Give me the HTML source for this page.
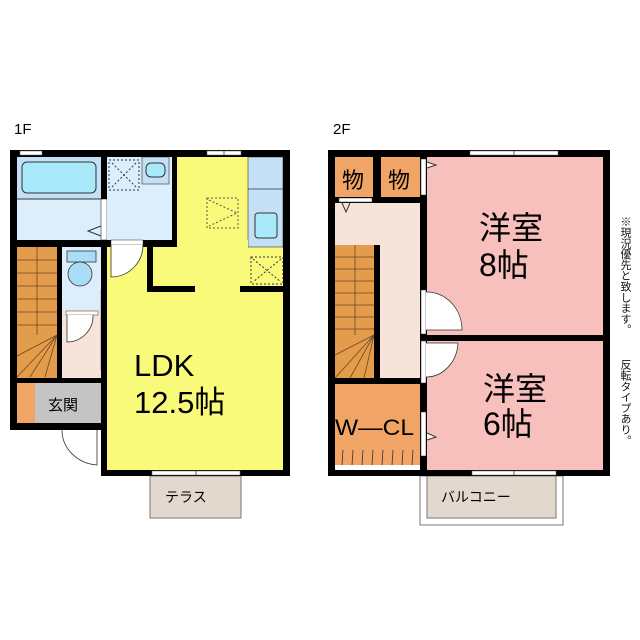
<!DOCTYPE html>
<html><head><meta charset="utf-8"><style>
body{margin:0;background:#fff;width:640px;height:640px;overflow:hidden;font-family:"Liberation Sans","Noto Sans CJK JP",sans-serif;}
svg{position:absolute;left:0;top:0}
.v{position:absolute;writing-mode:vertical-rl;font-size:11px;line-height:11px;color:#111;letter-spacing:-0.2px}
</style></head><body>
<svg width="640" height="640" viewBox="0 0 640 640" xmlns="http://www.w3.org/2000/svg" font-family="Liberation Sans, Noto Sans CJK JP, sans-serif">
<text x="14" y="134" font-size="15" fill="#000">1F</text>
<text x="333" y="134" font-size="15" fill="#000">2F</text>

<!-- 1F fills -->
<rect x="107" y="157" width="176" height="313" fill="#fafa7a"/>
<rect x="17" y="157" width="84" height="83" fill="#dceefb"/>
<rect x="17" y="157" width="84" height="42" fill="#c3e0f7"/>
<rect x="22" y="162" width="74" height="31" rx="5" fill="#a8eafa" stroke="#333" stroke-width="1"/>
<line x1="17" y1="199" x2="101" y2="199" stroke="#333" stroke-width="1"/>
<rect x="101" y="199" width="6" height="41" fill="#fff" stroke="#333" stroke-width="0.6"/>
<polyline points="101,226 88,231 101,236" fill="none" stroke="#333"/>
<rect x="107" y="157" width="65" height="83" fill="#dceefb"/>
<rect x="109" y="160" width="30" height="30" fill="none" stroke="#333" stroke-dasharray="2,2"/>
<line x1="112" y1="163" x2="136" y2="187" stroke="#333" stroke-dasharray="2,2"/>
<line x1="136" y1="163" x2="112" y2="187" stroke="#333" stroke-dasharray="2,2"/>
<rect x="142" y="157" width="27" height="27" fill="#c3e0f7" stroke="#333" stroke-width="0.6"/>
<rect x="146" y="163" width="19" height="14" rx="5" fill="#a8eafa" stroke="#333"/>
<rect x="248" y="157" width="35" height="90" fill="#c3e0f7" stroke="#333" stroke-width="0.6"/>
<line x1="248" y1="189" x2="283" y2="189" stroke="#333" stroke-width="0.8"/>
<rect x="255" y="213" width="22" height="25" rx="3" fill="#a8eafa" stroke="#333"/>
<rect x="251" y="257" width="32" height="27" fill="none" stroke="#333" stroke-dasharray="2,2"/>
<line x1="253" y1="259" x2="281" y2="282" stroke="#333" stroke-dasharray="2,2"/>
<line x1="281" y1="259" x2="253" y2="282" stroke="#333" stroke-dasharray="2,2"/>
<rect x="207" y="198" width="31" height="30" fill="none" stroke="#555" stroke-dasharray="2,2"/>
<polyline points="209,200 237,213 209,226" fill="none" stroke="#555" stroke-dasharray="2,2"/>
<rect x="17" y="247" width="40" height="131" fill="#e39b4c"/>
<g stroke="#6b4a1f" stroke-width="0.8">
<line x1="17" y1="260" x2="57" y2="260"/><line x1="17" y1="273" x2="57" y2="273"/><line x1="17" y1="286" x2="57" y2="286"/><line x1="17" y1="299" x2="57" y2="299"/><line x1="17" y1="312" x2="57" y2="312"/><line x1="17" y1="325" x2="57" y2="325"/>
<line x1="37" y1="247" x2="37" y2="335"/>
<line x1="57" y1="335" x2="17" y2="377"/><line x1="57" y1="335" x2="17" y2="356"/><line x1="57" y1="335" x2="30" y2="377"/><line x1="57" y1="335" x2="45" y2="377"/>
</g>
<rect x="62" y="247" width="39" height="63" fill="#dceefb"/>
<rect x="67" y="251" width="29" height="11" fill="#a8dcf7" stroke="#333" stroke-width="0.8"/>
<ellipse cx="80" cy="274" rx="12" ry="12" fill="#a8dcf7" stroke="#333" stroke-width="0.8"/>
<rect x="62" y="310" width="39" height="73" fill="#f6e4da"/>
<rect x="66" y="311" width="32" height="4" fill="#fff" stroke="#333" stroke-width="0.5"/>
<path d="M67,315 L67,342 A26,26 0 0 0 93,315" fill="#fff" stroke="#333" stroke-width="0.8"/>
<rect x="101" y="290" width="5" height="80" fill="#fff" stroke="#555" stroke-width="0.5"/>
<rect x="17" y="383" width="18" height="40" fill="#f0a466"/>
<rect x="35" y="383" width="66" height="40" fill="#c4c4c4"/>
<text x="48" y="410" font-size="15" fill="#000">玄関</text>
<path d="M62,430 A38,35 0 0 0 97,465 L97,430" fill="#fff" stroke="#333" stroke-width="0.8"/>
<rect x="150" y="476" width="91" height="42" fill="#e2d8ce" stroke="#777" stroke-width="1"/>
<text x="165" y="502" font-size="14" fill="#000">テラス</text>

<g fill="#000">
<rect x="10" y="150" width="280" height="7"/>
<rect x="10" y="150" width="7" height="280"/>
<rect x="283" y="150" width="7" height="326"/>
<rect x="101" y="470" width="189" height="6"/>
<rect x="10" y="423" width="91" height="7"/>
<rect x="101" y="240" width="6" height="236"/>
<rect x="101" y="157" width="6" height="42"/>
<rect x="172" y="157" width="5" height="90"/>
<rect x="10" y="240" width="167" height="7"/>
<rect x="57" y="247" width="5" height="136"/>
<rect x="17" y="378" width="84" height="5"/>
<rect x="147" y="247" width="6" height="45"/>
<rect x="147" y="286" width="48" height="6"/>
<rect x="240" y="286" width="50" height="6"/>
</g>
<rect x="177" y="240" width="71" height="7" fill="#fafa7a"/>
<rect x="107" y="240" width="40" height="7" fill="#000"/>
<rect x="111" y="240" width="32" height="5" fill="#fff" stroke="#333" stroke-width="0.5"/>
<path d="M111,245 L111,277 A32,32 0 0 0 143,245" fill="#fff" stroke="#333" stroke-width="0.8"/>
<rect x="20" y="151" width="22" height="4" fill="#fff" stroke="#666" stroke-width="0.5"/>
<rect x="207" y="151" width="34" height="4" fill="#fff" stroke="#666" stroke-width="0.5"/>
<line x1="224" y1="151" x2="224" y2="155" stroke="#666"/>
<rect x="152" y="471" width="88" height="4" fill="#fff" stroke="#666" stroke-width="0.5"/>
<line x1="196" y1="471" x2="196" y2="475" stroke="#666"/>
<text x="134" y="376" font-size="31" fill="#000">LDK</text>
<text x="134" y="413" font-size="31" fill="#000">12.5帖</text>

<!-- 2F -->
<rect x="427" y="157" width="176" height="313" fill="#f8c0bc"/>
<rect x="335" y="203" width="85" height="175" fill="#f6e4da"/>
<rect x="335" y="157" width="38" height="40" fill="#f0a466"/>
<rect x="381" y="157" width="39" height="40" fill="#f0a466"/>
<text x="342" y="188" font-size="22" fill="#000">物</text>
<text x="388" y="188" font-size="22" fill="#000">物</text>
<rect x="335" y="245" width="39" height="133" fill="#e39b4c"/>
<g stroke="#6b4a1f" stroke-width="0.8">
<line x1="335" y1="257" x2="374" y2="257"/><line x1="335" y1="269" x2="374" y2="269"/><line x1="335" y1="281" x2="374" y2="281"/><line x1="335" y1="293" x2="374" y2="293"/><line x1="335" y1="305" x2="374" y2="305"/><line x1="335" y1="317" x2="374" y2="317"/><line x1="335" y1="329" x2="374" y2="329"/>
<line x1="355" y1="245" x2="355" y2="335"/>
<line x1="374" y1="335" x2="335" y2="378"/><line x1="374" y1="335" x2="335" y2="355"/><line x1="374" y1="335" x2="350" y2="378"/><line x1="374" y1="335" x2="364" y2="378"/>
</g>
<rect x="335" y="384" width="85" height="81" fill="#f0a466"/>
<g stroke="#333" stroke-width="0.8">
<line x1="343" y1="450" x2="342" y2="465"/><line x1="353" y1="450" x2="352" y2="465"/><line x1="363" y1="450" x2="362" y2="465"/><line x1="373" y1="450" x2="372" y2="465"/><line x1="383" y1="450" x2="382" y2="465"/><line x1="393" y1="450" x2="392" y2="465"/><line x1="403" y1="450" x2="402" y2="465"/><line x1="413" y1="450" x2="412" y2="465"/>
</g>
<text x="335" y="435" font-size="22" fill="#000" textLength="79" lengthAdjust="spacingAndGlyphs">W―CL</text>
<rect x="420" y="476" width="143" height="49" fill="#fff" stroke="#777" stroke-width="1"/>
<rect x="427" y="476" width="129" height="42" fill="#e2d8ce" stroke="#777" stroke-width="1"/>
<text x="441" y="502" font-size="14" fill="#000">バルコニー</text>
<g fill="#000">
<rect x="328" y="150" width="282" height="7"/>
<rect x="328" y="150" width="7" height="326"/>
<rect x="603" y="150" width="7" height="326"/>
<rect x="328" y="470" width="282" height="6"/>
<rect x="420" y="150" width="7" height="326"/>
<rect x="373" y="157" width="8" height="40"/>
<rect x="335" y="197" width="92" height="6"/>
<rect x="374" y="245" width="6" height="133"/>
<rect x="328" y="378" width="99" height="6"/>
<rect x="427" y="335" width="176" height="6"/>
</g>
<rect x="339" y="198" width="33" height="4" fill="#fff" stroke="#333" stroke-width="0.5"/>
<polyline points="342,203 346,212 350,203" fill="none" stroke="#333"/>
<rect x="421" y="159" width="5" height="36" fill="#fff" stroke="#333" stroke-width="0.5"/>
<polyline points="427,162 436,165 427,168" fill="#fff" stroke="#333"/>
<rect x="421" y="290" width="5" height="44" fill="#fff" stroke="#333" stroke-width="0.5"/>
<path d="M426,292 A35,38 0 0 1 462,330 L426,330" fill="#fff" stroke="#333" stroke-width="0.8"/>
<rect x="421" y="341" width="5" height="42" fill="#fff" stroke="#333" stroke-width="0.5"/>
<path d="M426,343 L458,343 A32,36 0 0 1 426,377" fill="#fff" stroke="#333" stroke-width="0.8"/>
<rect x="421" y="412" width="5" height="44" fill="#fff" stroke="#333" stroke-width="0.5"/>
<polyline points="427,433 436,437 427,440" fill="#fff" stroke="#333"/>
<rect x="470" y="151" width="88" height="4" fill="#fff" stroke="#666" stroke-width="0.5"/>
<line x1="514" y1="151" x2="514" y2="155" stroke="#666"/>
<rect x="472" y="471" width="84" height="4" fill="#fff" stroke="#666" stroke-width="0.5"/>
<line x1="514" y1="471" x2="514" y2="475" stroke="#666"/>
<text x="479" y="239" font-size="32" fill="#000">洋室</text>
<text x="479" y="276" font-size="32" fill="#000">8帖</text>
<text x="483" y="400" font-size="32" fill="#000">洋室</text>
<text x="483" y="435" font-size="32" fill="#000">6帖</text>
</svg>
<div class="v" style="left:619px;top:216px">※現況優先と致します。</div>
<div class="v" style="left:619px;top:359px">反転タイプあり。</div>
</body></html>
